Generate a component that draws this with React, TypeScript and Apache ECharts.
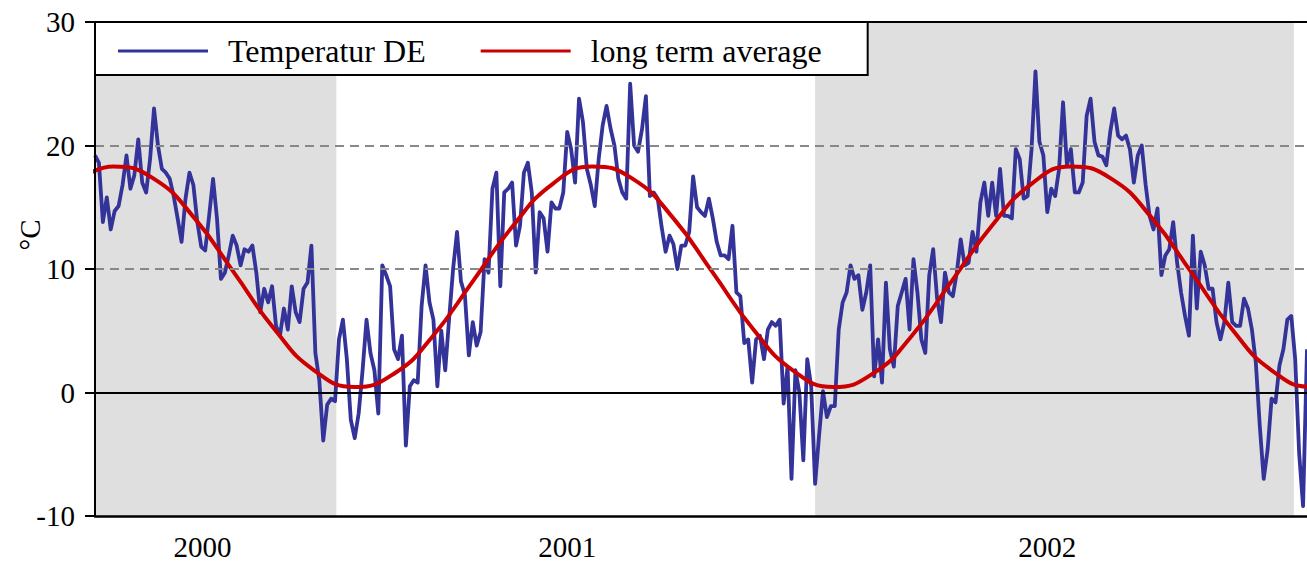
import { useEffect, useRef } from "react";
import * as echarts from "echarts";

// Daily-mean temperature sampled every 3 days, starting 1 July 2000 (°C)
const SERIES_START: [number, number, number] = [2000, 6, 1];
const AXIS_END: [number, number, number] = [2003, 0, 11];
const STEP_DAYS = 3;

const temperatureDE = [
  19.2, 18.6, 13.8, 15.8, 13.2, 14.7, 15.1, 16.8, 19.2, 16.5,
  17.6, 20.5, 17.0, 16.2, 18.9, 23.0, 20.0, 18.1, 17.8, 17.3,
  15.9, 14.1, 12.2, 15.7, 17.8, 16.8, 13.8, 11.8, 11.5, 14.3,
  17.3, 14.1, 9.2, 9.7, 11.1, 12.7, 11.9, 10.3, 11.6, 11.4,
  11.9, 9.7, 6.5, 8.4, 7.3, 8.6, 5.4, 4.6, 6.8, 5.1,
  8.6, 6.5, 5.7, 8.4, 8.9, 11.9, 3.2, 1.0, -3.9, -1.0,
  -0.5, -0.7, 4.3, 5.9, 2.7, -2.2, -3.7, -1.7, 1.8, 5.9,
  3.2, 1.8, -1.7, 10.3, 9.5, 8.6, 3.5, 2.7, 4.6, -4.3,
  0.5, 1.0, 0.8, 7.0, 10.3, 7.3, 5.9, 0.5, 5.0, 1.8,
  6.0, 10.0, 13.0, 9.0, 7.9, 3.0, 5.7, 3.8, 4.9, 10.8,
  9.7, 16.5, 17.8, 8.6, 16.2, 16.5, 17.0, 11.9, 13.5, 17.8,
  18.6, 16.2, 9.7, 14.6, 14.1, 11.4, 15.4, 14.9, 14.9, 16.2,
  21.1, 19.7, 17.0, 23.8, 21.9, 18.1, 16.8, 15.1, 18.9, 21.6,
  23.2, 21.4, 20.0, 17.3, 16.2, 15.7, 25.0, 20.0, 19.5, 21.3,
  24.0, 15.9, 16.2, 15.7, 13.4, 11.4, 12.7, 12.0, 10.0, 11.9,
  11.9, 13.0, 17.5, 15.0, 14.6, 14.3, 15.7, 14.1, 12.2, 11.1,
  11.1, 10.8, 13.5, 8.1, 7.8, 4.0, 4.3, 0.8, 4.3, 4.6,
  2.7, 5.1, 5.7, 5.4, 5.9, -0.9, 2.1, -7.0, 1.8, 0.0,
  -5.5, 2.7, 0.5, -7.4, -3.5, 0.1, -2.0, -1.1, -1.1, 5.1,
  7.3, 8.1, 10.3, 9.2, 9.5, 6.7, 8.1, 10.3, 1.3, 4.3,
  0.8, 8.9, 3.5, 2.1, 7.0, 8.1, 9.2, 5.1, 10.8, 8.1,
  4.3, 3.2, 9.5, 11.6, 7.6, 5.7, 9.7, 8.1, 7.8, 9.7,
  12.4, 10.3, 10.5, 13.0, 11.4, 15.4, 17.0, 14.3, 17.0, 14.3,
  18.1, 14.3, 14.3, 14.1, 19.7, 18.9, 15.7, 15.9, 19.7, 26.0,
  20.3, 19.2, 14.6, 16.5, 15.9, 18.1, 23.5, 18.4, 19.7, 16.2,
  16.2, 17.0, 22.4, 23.8, 20.3, 19.2, 19.1, 18.4, 21.1, 23.0,
  20.8, 20.5, 20.8, 19.7, 17.0, 19.2, 20.0, 16.8, 14.3, 13.2,
  14.9, 9.5, 11.1, 11.6, 13.8, 10.5, 8.1, 6.2, 4.6, 12.7,
  6.8, 11.4, 10.3, 8.4, 8.4, 5.7, 4.3, 5.7, 8.9, 5.7,
  5.4, 5.4, 7.6, 6.8, 5.1, 2.4, -2.7, -7.0, -4.6, -0.5,
  -0.8, 2.2, 3.5, 5.9, 6.2, 2.7, -4.9, -9.2, 3.5,
];

// Long-term mean for the middle of each month, January..December (°C)
const monthlyNormal = [0.45, 1.6, 4.5, 9.0, 13.4, 16.9, 18.3, 17.3, 14.1, 9.7, 5.1, 1.8];
const normalYears = [2000, 2001, 2002, 2003];

// Years drawn with a grey background
const shadedYears = [2000, 2002];

// Year labels below the axis: [year, month, day] of each label
const yearLabelDates: [number, number, number][] = [
  [2000, 8, 21],
  [2001, 5, 26],
  [2002, 5, 27],
];

const Y_MIN = -10;
const Y_MAX = 30;
const Y_STEP = 10;
const dashedLevels = [10, 20];
const zeroLevel = 0;

const SERIF = "'Liberation Serif', 'Times New Roman', serif";
const BLUE = "#333399";
const RED = "#cc0000";

const d = (p: [number, number, number]) => new Date(p[0], p[1], p[2]).getTime();

export default function App() {
  const ref = useRef<HTMLDivElement>(null);

  useEffect(() => {
    if (!ref.current) return;
    const chart = echarts.init(ref.current, undefined, { renderer: "svg" });

    const start = d(SERIES_START);
    const end = d(AXIS_END);

    const tempData = temperatureDE.map((t, i) => [
      new Date(SERIES_START[0], SERIES_START[1], SERIES_START[2] + STEP_DAYS * i).getTime(),
      t,
    ]);

    const normalData: [number, number][] = [];
    normalYears.forEach((y) => {
      monthlyNormal.forEach((v, m) => {
        const t = new Date(y, m, 15).getTime();
        if (t >= new Date(2000, 5, 1).getTime() && t <= new Date(2003, 2, 1).getTime()) {
          normalData.push([t, v]);
        }
      });
    });

    const bands = shadedYears.map((y) => [
      { xAxis: Math.max(start, new Date(y, 0, 1).getTime()) },
      { xAxis: Math.min(end, new Date(y + 1, 0, 1).getTime()) },
    ]);

    chart.setOption({
      animation: false,
      backgroundColor: "#ffffff",
      grid: { left: 95, right: 0, top: 22, bottom: 46 },
      legend: {
        left: 95,
        top: 22,
        orient: "horizontal",
        padding: [13, 46, 8, 23],
        itemGap: 55,
        itemWidth: 90,
        itemHeight: 3,
        icon: "rect",
        backgroundColor: "#ffffff",
        borderColor: "#000000",
        borderWidth: 2,
        borderRadius: 0,
        z: 20,
        textStyle: {
          fontFamily: SERIF,
          fontSize: 32,
          color: "#000000",
          padding: [0, 0, 0, 15],
          lineHeight: 32,
        },
        data: [
          { name: "Temperatur DE", itemStyle: { color: BLUE } },
          { name: "long term average", itemStyle: { color: RED } },
        ],
      },
      xAxis: [
        {
          type: "value",
          min: start,
          max: end,
          z: 10,
          axisLine: { show: true, onZero: false, lineStyle: { color: "#000", width: 2.5 } },
          axisTick: { show: false },
          splitLine: { show: false },
          axisLabel: {
            customValues: yearLabelDates.map(d),
            formatter: (v: number) => String(new Date(v).getFullYear()),
            fontFamily: SERIF,
            fontSize: 29,
            color: "#000",
            margin: 16,
          },
        },
        {
          type: "value",
          position: "top",
          min: start,
          max: end,
          z: 10,
          axisLine: { show: true, onZero: false, lineStyle: { color: "#000", width: 2 } },
          axisTick: { show: false },
          axisLabel: { show: false },
          splitLine: { show: false },
        },
      ],
      yAxis: {
        type: "value",
        min: Y_MIN,
        max: Y_MAX,
        interval: Y_STEP,
        z: 10,
        axisLine: { show: true, onZero: false, lineStyle: { color: "#000", width: 2 } },
        axisTick: { show: true, length: 10, lineStyle: { color: "#000", width: 2 } },
        splitLine: { show: false },
        axisLabel: {
          fontFamily: SERIF,
          fontSize: 29,
          color: "#000",
          margin: 20,
        },
      },
      graphic: [
        {
          type: "text",
          x: 30,
          y: 235,
          rotation: Math.PI / 2,
          style: {
            text: "°C",
            font: `29px ${SERIF}`,
            fill: "#000",
            align: "center",
            verticalAlign: "middle",
          },
        },
      ],
      series: [
        {
          name: "years",
          type: "line",
          data: [],
          z: 1,
          silent: true,
          markArea: {
            silent: true,
            itemStyle: { color: "#dfdfdf" },
            data: bands,
          },
        },
        {
          name: "levels",
          type: "line",
          data: [],
          z: 2,
          silent: true,
          markLine: {
            silent: true,
            symbol: "none",
            label: { show: false },
            data: [
              ...dashedLevels.map((v) => ({
                yAxis: v,
                lineStyle: { color: "#888888", width: 2, type: [9, 6] },
              })),
              { yAxis: zeroLevel, lineStyle: { color: "#000000", width: 2, type: "solid" } },
            ],
          },
        },
        {
          name: "Temperatur DE",
          type: "line",
          data: tempData,
          z: 3,
          showSymbol: false,
          symbol: "none",
          lineStyle: { color: BLUE, width: 3.8, join: "round" },
          itemStyle: { color: BLUE },
        },
        {
          name: "long term average",
          type: "line",
          data: normalData,
          z: 4,
          smooth: 0.5,
          showSymbol: false,
          symbol: "none",
          lineStyle: { color: RED, width: 4 },
          itemStyle: { color: RED },
        },
      ],
    });

    return () => chart.dispose();
  }, []);

  return (
    <div
      ref={ref}
      style={{ position: "fixed", left: 0, top: 0, width: 1307, height: 562 }}
    />
  );
}
